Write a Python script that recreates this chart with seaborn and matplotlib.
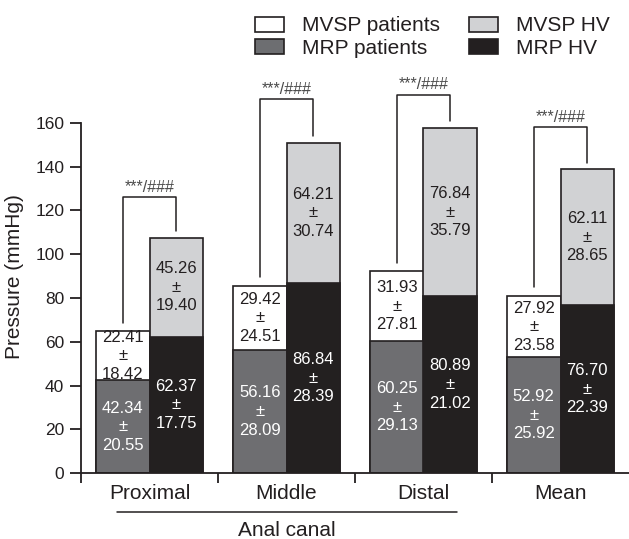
import pandas as pd
import matplotlib
matplotlib.use("Agg")
import matplotlib.pyplot as plt
from matplotlib.patches import Patch
import seaborn as sns

# ── data ─────────────────────────────────────────────────────────────────────
GROUPS      = ["Proximal", "Middle", "Distal", "Mean"]
SUBJECTS    = ["patients", "HV"]
mrp_pat     = [42.34, 56.16, 60.25, 52.92]
mrp_pat_sd  = [20.55, 28.09, 29.13, 25.92]
mvsp_pat    = [22.41, 29.42, 31.93, 27.92]
mvsp_pat_sd = [18.42, 24.51, 27.81, 23.58]
mrp_hv      = [62.37, 86.84, 80.89, 76.70]
mrp_hv_sd   = [17.75, 28.39, 21.02, 22.39]
mvsp_hv     = [45.26, 64.21, 76.84, 62.11]
mvsp_hv_sd  = [19.40, 30.74, 35.79, 28.65]
bracket_top = [126, 171, 173, 158]
sig_label   = "***/###"
y_ticks     = [0, 20, 40, 60, 80, 100, 120, 140, 160]

# ── style ────────────────────────────────────────────────────────────────────
sns.set_style("ticks")
plt.rcParams["font.family"] = ["Liberation Sans", "DejaVu Sans"]
INK = "#231f20"
C_MRP_PAT, C_MVSP_PAT = "#6d6e71", "#ffffff"
C_MRP_HV,  C_MVSP_HV  = "#231f20", "#d1d2d4"

rows = []
for i, g in enumerate(GROUPS):
    rows.append({"group": g, "subject": "patients", "mrp": mrp_pat[i], "total": mrp_pat[i] + mvsp_pat[i]})
    rows.append({"group": g, "subject": "HV", "mrp": mrp_hv[i], "total": mrp_hv[i] + mvsp_hv[i]})
df = pd.DataFrame(rows)

fig = plt.figure(figsize=(6.29, 5.39), dpi=100)
ax = fig.add_axes([81 / 629, 1 - 473 / 539, 548 / 629, 393.75 / 539])

bar_kw = dict(x="group", y="total", hue="subject", order=GROUPS, hue_order=SUBJECTS,
              width=0.78, gap=0, errorbar=None, legend=False,
              edgecolor=INK, linewidth=1.2, ax=ax)
sns.barplot(data=df, palette={"patients": C_MVSP_PAT, "HV": C_MVSP_HV}, **bar_kw)
bar_kw["y"] = "mrp"
sns.barplot(data=df, palette={"patients": C_MRP_PAT, "HV": C_MRP_HV}, **bar_kw)

tot_pat, tot_hv, low_pat, low_hv = ax.containers[:4]

# ── value labels in each segment ─────────────────────────────────────────────
def seg_text(bar, base, val, sd, color):
    x = bar.get_x() + bar.get_width() / 2
    ax.text(x, base + val / 2, f"{val:.2f}\n±\n{sd:.2f}", ha="center", va="center",
            fontsize=12, color=color, linespacing=1.3)

for i in range(len(GROUPS)):
    seg_text(low_pat[i], 0, mrp_pat[i], mrp_pat_sd[i], "white")
    seg_text(tot_pat[i], mrp_pat[i], mvsp_pat[i], mvsp_pat_sd[i], INK)
    seg_text(low_hv[i], 0, mrp_hv[i], mrp_hv_sd[i], "white")
    seg_text(tot_hv[i], mrp_hv[i], mvsp_hv[i], mvsp_hv_sd[i], INK)

# ── significance brackets ────────────────────────────────────────────────────
for i in range(len(GROUPS)):
    xl = tot_pat[i].get_x() + tot_pat[i].get_width() / 2
    xr = tot_hv[i].get_x() + tot_hv[i].get_width() / 2
    yl = tot_pat[i].get_height() + 4
    yr = tot_hv[i].get_height() + 3
    top = bracket_top[i]
    ax.plot([xl, xl, xr, xr], [yl, top, top, yr], color=INK, lw=1.1, clip_on=False)
    ax.text((xl + xr) / 2, top + 1.0, sig_label, ha="center", va="bottom",
            fontsize=11.5, color="#4a4a4a")

# ── axes ─────────────────────────────────────────────────────────────────────
ax.set_xlim(-0.5, 3.5)
ax.set_ylim(0, 180)
ax.set_yticks(y_ticks)
ax.spines["left"].set_bounds(0, 160)
ax.spines["top"].set_visible(False)
ax.spines["right"].set_visible(False)
for s in ("left", "bottom"):
    ax.spines[s].set_linewidth(1.3)
    ax.spines[s].set_color(INK)
ax.tick_params(axis="y", length=8, width=1.3, color=INK, labelsize=12.5, labelcolor=INK, pad=4)
ax.set_xticks(range(len(GROUPS)))
ax.set_xticklabels(GROUPS)
ax.set_xticks([-0.5, 0.5, 1.5, 2.5], minor=True)
ax.tick_params(axis="x", which="major", length=0, labelsize=15, labelcolor=INK, pad=8)
ax.tick_params(axis="x", which="minor", length=7, width=1.3, color=INK)
ax.set_xlabel("")
ax.set_ylabel("Pressure (mmHg)", fontsize=15, color=INK, labelpad=8)

# "Anal canal" underline spanning the three canal sites
xt = ax.get_xaxis_transform()
ax.plot([-0.237, 2.245], [-0.099, -0.099], transform=xt, color=INK, lw=1.1, clip_on=False)
ax.text(1.0, -0.147, "Anal canal", transform=xt, ha="center", va="center",
        fontsize=15, color=INK)

# ── legend ───────────────────────────────────────────────────────────────────
handles = [Patch(facecolor=C_MVSP_PAT, edgecolor=INK, lw=1.2, label="MVSP patients"),
           Patch(facecolor=C_MRP_PAT, edgecolor=INK, lw=1.2, label="MRP patients"),
           Patch(facecolor=C_MVSP_HV, edgecolor=INK, lw=1.2, label="MVSP HV"),
           Patch(facecolor=C_MRP_HV, edgecolor=INK, lw=1.2, label="MRP HV")]
fig.legend(handles=handles, ncol=2, loc="center", bbox_to_anchor=(432.5 / 629, 1 - 37 / 539),
           frameon=False, fontsize=15, handlelength=1.4, handleheight=0.72,
           handletextpad=0.85, columnspacing=1.4, labelspacing=0.15, borderpad=0,
           labelcolor=INK)

fig.savefig("out.png", dpi=100)
